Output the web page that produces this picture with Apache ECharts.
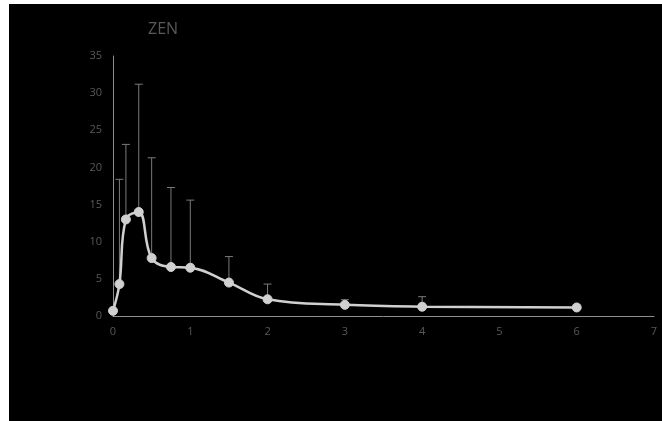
<!DOCTYPE html>
<html><head><meta charset="utf-8">
<script src="https://cdn.jsdelivr.net/npm/echarts@6/dist/echarts.min.js"></script>
<style>
html,body{margin:0;padding:0;background:#fff;width:662px;height:421px;overflow:hidden;}
#c{position:absolute;left:9px;top:4px;width:653px;height:417px;background:#000;}
</style></head>
<body><div id="c"></div>
<script>
var times = [0, 0.083, 0.167, 0.333, 0.5, 0.75, 1, 1.5, 2, 3, 4, 6];
var means = [0.7, 4.3, 13.0, 14.0, 7.8, 6.6, 6.5, 4.5, 2.25, 1.5, 1.25, 1.15];
var upper = [0.7, 18.4, 23.1, 31.2, 21.3, 17.3, 15.6, 8.0, 4.3, 2.2, 2.6, 1.15];
var title = 'ZEN';

var chart = echarts.init(document.getElementById('c'));
var errData = times.map(function(t, i){ return [t, means[i], upper[i]]; });
var lineData = times.map(function(t, i){ return [t, means[i]]; });
chart.setOption({
  backgroundColor: '#000',
  animation: false,
  title: {text: title, left: 134, top: 12, textStyle: {color: '#595959', fontSize: 16, fontWeight: 'normal', fontFamily: 'Open Sans'}},
  grid: {left: 104, right: 8, top: 52, bottom: 105},
  xAxis: {type: 'value', min: 0, max: 7, interval: 1,
    axisLine: {show: true, onZero: false, lineStyle: {color: '#8f8f8f', width: 1}},
    axisTick: {show: false}, splitLine: {show: false},
    axisLabel: {color: '#595959', fontSize: 11, margin: 10, fontFamily: 'Open Sans'}},
  yAxis: {type: 'value', min: 0, max: 35, interval: 5,
    axisLine: {show: true, lineStyle: {color: '#8f8f8f', width: 1}},
    axisTick: {show: false}, splitLine: {show: false},
    axisLabel: {color: '#595959', fontSize: 11, margin: 11, fontFamily: 'Open Sans'}},
  series: [
    {type: 'custom', z: 1, data: errData,
      renderItem: function(params, api){
        var x = api.value(0), m = api.value(1), u = api.value(2);
        if (u <= m) return null;
        var p1 = api.coord([x, m]), p2 = api.coord([x, u]);
        var st = {stroke: '#7a7a7a', lineWidth: 1};
        return {type: 'group', children: [
          {type: 'line', shape: {x1: p1[0], y1: p1[1], x2: p2[0], y2: p2[1]}, style: st},
          {type: 'line', shape: {x1: p2[0]-4, y1: p2[1], x2: p2[0]+4, y2: p2[1]}, style: st}
        ]};
      }},
    {type: 'line', z: 2, data: lineData, smooth: 0.4, symbol: 'circle', symbolSize: 9,
      lineStyle: {color: '#d0d0d0', width: 2.5},
      itemStyle: {color: '#d0d0d0', borderColor: '#d0d0d0'}}
  ]
});
</script></body></html>
